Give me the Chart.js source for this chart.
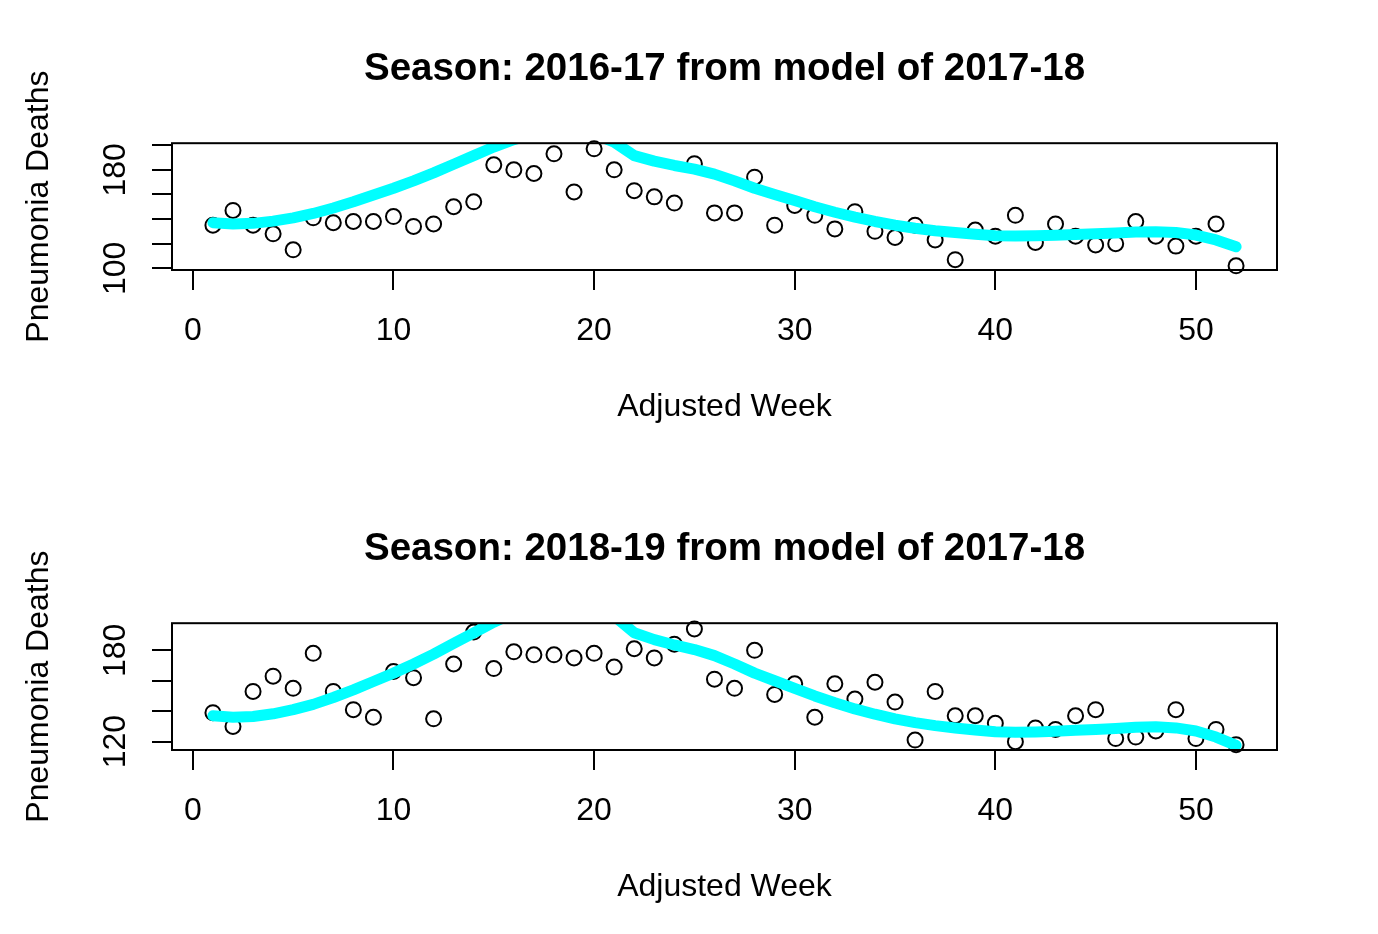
<!DOCTYPE html>
<html>
<head>
<meta charset="utf-8">
<script src="https://cdn.jsdelivr.net/npm/chart.js@4.4.1/dist/chart.umd.min.js"></script>
<style>
  html, body { margin: 0; padding: 0; background: #fff; overflow: hidden; }
  canvas { display: block; }
</style>
</head>
<body>
<canvas id="season1617" width="1378" height="480"></canvas>
<canvas id="season1819" width="1378" height="480"></canvas>
<script>
// Semanas ajustadas
const weeks = [1, 2, 3, 4, 5, 6, 7, 8, 9, 10, 11, 12, 13, 14, 15, 16, 17, 18, 19, 20, 21, 22, 23, 24, 25, 26,
  27, 28, 29, 30, 31, 32, 33, 34, 35, 36, 37, 38, 39, 40, 41, 42, 43, 44, 45, 46, 47, 48, 49, 50, 51, 52];

// Mortes observadas por temporada
const deaths1617 = [135, 147, 135, 128, 115, 141, 137, 138, 138, 142, 134, 136, 150, 154, 184, 180, 177, 193, 162, 197,
  180, 163, 158, 153, 185, 145, 145, 174, 135, 151, 143, 132, 146, 130, 125, 135, 123, 107, 131, 126,
  143, 121, 136, 126, 119, 120, 138, 126, 118, 126, 136, 102];
const deaths1819 = [139, 130, 153, 163, 155, 178, 153, 141, 136, 166, 162, 135, 171, 192, 168, 179, 177, 177, 175, 178,
  169, 181, 175, 184, 194, 161, 155, 180, 151, 158, 136, 158, 148, 159, 146, 121, 153, 137, 137, 132,
  120, 129, 128, 137, 141, 122, 123, 127, 141, 122, 128, 118];

// Curva do modelo 2017-18
const model1718 = [137, 136, 136.5, 138.3, 141, 144.5, 149, 154, 159.5, 165, 171, 177.5, 184.5, 191.5, 198.5, 204.5,
  209, 211.5, 211.5, 209, 202.5, 191.5, 187, 183.5, 180.5, 176.5, 171, 165, 160, 155, 150, 145.5,
  141.5, 138, 135, 132.5, 130.5, 129, 127.7, 126.5, 126.2, 126.4, 126.8, 127.4, 128, 128.7, 129.5,
  129.7, 129, 127, 123, 117.5];

// Ticks
const xTicks = [0, 10, 20, 30, 40, 50];
const yLabels1617 = [100, 180];
const yLabels1819 = [120, 180];

const FONT = "'Liberation Sans', Arial, Helvetica, sans-serif";

// Moldura em volta da área do gráfico (como box() do R)
const boxPlugin = {
  id: "box",
  afterDraw(chart) {
    const { ctx, chartArea } = chart;
    ctx.save();
    ctx.strokeStyle = "#000";
    ctx.lineWidth = 2;
    ctx.strokeRect(chartArea.left, chartArea.top, chartArea.right - chartArea.left, chartArea.bottom - chartArea.top);
    ctx.restore();
  },
};

function makeChart(canvasId, title, deaths, yMin, yMax, yLabels) {
  const el = document.getElementById(canvasId);
  return new Chart(el, {
    type: "scatter",
    data: {
      datasets: [
        {
          type: "line",
          data: weeks.map((w, i) => ({ x: w, y: model1718[i] })),
          borderColor: "#00ffff",
          borderWidth: 11,
          borderCapStyle: "round",
          borderJoinStyle: "round",
          pointRadius: 0,
          tension: 0,
          clip: 0,
        },
        {
          data: weeks.map((w, i) => ({ x: w, y: deaths[i] })),
          pointStyle: "circle",
          pointRadius: 7.5,
          pointBorderWidth: 2,
          pointBorderColor: "#000",
          pointBackgroundColor: "rgba(0,0,0,0)",
          clip: false,
        },
      ],
    },
    options: {
      responsive: false,
      animation: false,
      devicePixelRatio: 1,
      layout: { padding: { left: 0, right: 101, top: 0, bottom: 0 } },
      plugins: {
        legend: { display: false },
        tooltip: { enabled: false },
        title: {
          display: true,
          text: title,
          fullSize: false,
          color: "#000",
          font: { family: FONT, size: 38.5, weight: "bold", lineHeight: 1.2 },
          padding: { top: 46, bottom: 51 },
        },
      },
      scales: {
        x: {
          type: "linear",
          min: -1.04,
          max: 54.04,
          border: { display: false },
          grid: { drawOnChartArea: false, drawTicks: true, tickLength: 20, color: "#000", lineWidth: 2 },
          afterBuildTicks: (axis) => { axis.ticks = xTicks.map((v) => ({ value: v })); },
          ticks: {
            color: "#000",
            font: { family: FONT, size: 32, lineHeight: 1.2 },
            padding: 22,
            maxRotation: 0,
            autoSkip: false,
          },
          title: {
            display: true,
            text: "Adjusted Week",
            color: "#000",
            font: { family: FONT, size: 32, lineHeight: 1.2 },
            padding: { top: 0, bottom: 54 },
          },
          afterFit: (axis) => { axis.height = 210; },
        },
        y: {
          type: "linear",
          min: yMin,
          max: yMax,
          border: { display: false },
          grid: { drawOnChartArea: false, drawTicks: true, tickLength: 20, color: "#000", lineWidth: 2 },
          ticks: {
            stepSize: 20,
            includeBounds: false,
            autoSkip: false,
            minRotation: 90,
            maxRotation: 90,
            crossAlign: "center",
            padding: 9,
            color: "#000",
            font: { family: FONT, size: 32, lineHeight: 1.2 },
            callback: (v) => (yLabels.includes(v) ? String(v) : ""),
          },
          title: {
            display: true,
            text: "Pneumonia Deaths",
            color: "#000",
            font: { family: FONT, size: 32, lineHeight: 1.2 },
            padding: { top: 20, bottom: 0 },
          },
          afterFit: (axis) => { axis.width = 172; },
        },
      },
    },
    plugins: [boxPlugin],
  });
}

makeChart("season1617", "Season: 2016-17 from model of 2017-18", deaths1617, 98.6, 201.6, yLabels1617);
makeChart("season1819", "Season: 2018-19 from model of 2017-18", deaths1819, 114.5, 197.8, yLabels1819);
</script>
</body>
</html>
